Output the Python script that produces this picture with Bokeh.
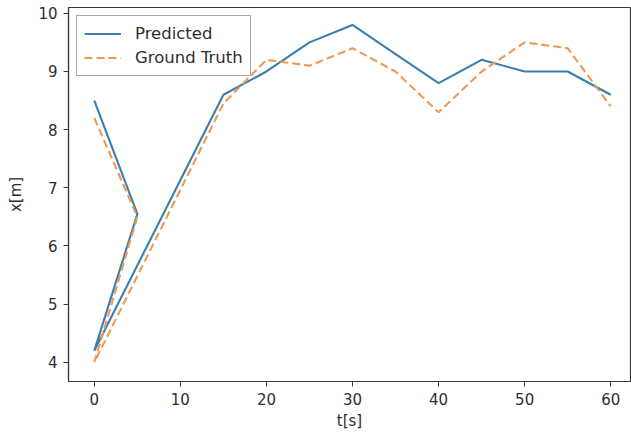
from bokeh.plotting import figure
from bokeh.models import Range1d, FixedTicker, Legend, LegendItem
from bokeh.embed import file_html
from bokeh.resources import INLINE

# Data
t_pred = [0, 5, 0, 15, 20, 25, 30, 35, 40, 45, 50, 55, 60]
x_pred = [8.5, 6.55, 4.2, 8.6, 9.0, 9.5, 9.8, 9.3, 8.8, 9.2, 9.0, 9.0, 8.6]
t_true = [0, 5, 0, 15, 20, 25, 30, 35, 40, 45, 50, 55, 60]
x_true = [8.2, 6.5, 4.0, 8.45, 9.2, 9.1, 9.4, 9.0, 8.3, 9.0, 9.5, 9.4, 8.4]
x_ticks = [0, 10, 20, 30, 40, 50, 60]
y_ticks = [4, 5, 6, 7, 8, 9, 10]

FONT = "DejaVu Sans"
TXT = "#2e2e2e"

p = figure(width=631, height=438, output_backend="svg", toolbar_location=None,
           x_range=Range1d(-3, 62.3), y_range=Range1d(3.67, 10.10),
           min_border_left=68, min_border_right=1, min_border_top=7, min_border_bottom=57)
p.xgrid.visible = False
p.ygrid.visible = False
p.outline_line_color = "#3a3a3a"
p.outline_line_width = 1.2
p.background_fill_color = "white"
p.border_fill_color = "white"

for ax, ticks in ((p.xaxis, x_ticks), (p.yaxis, y_ticks)):
    ax.ticker = FixedTicker(ticks=ticks)
    ax.minor_tick_line_color = None
    ax.major_tick_in = 0
    ax.major_tick_out = 5
    ax.major_tick_line_color = "#3a3a3a"
    ax.axis_line_color = "#3a3a3a"
    ax.axis_line_width = 1.2
    ax.major_label_text_font = FONT
    ax.major_label_text_font_size = "15px"
    ax.major_label_text_color = TXT
    ax.axis_label_text_font = FONT
    ax.axis_label_text_font_size = "15px"
    ax.axis_label_text_font_style = "normal"
    ax.axis_label_text_color = TXT

p.xaxis.axis_label = "t[s]"
p.yaxis.axis_label = "x[m]"
p.xaxis.major_label_standoff = 6
p.yaxis.major_label_standoff = 6
p.xaxis.axis_label_standoff = 4
p.yaxis.axis_label_standoff = 10

r1 = p.line(t_pred, x_pred, line_color="#3a7fb0", line_width=2.1)
r2 = p.line(t_true, x_true, line_color="#ee9a52", line_width=2.1, line_dash="8 4")

legend = Legend(items=[LegendItem(label="Predicted", renderers=[r1]),
                       LegendItem(label="Ground Truth", renderers=[r2])],
                location="top_left")
legend.label_text_font = FONT
legend.label_text_font_size = "16.5px"
legend.label_text_color = TXT
legend.glyph_width = 37
legend.glyph_height = 21
legend.label_standoff = 14
legend.spacing = 3
legend.padding = 7
legend.margin = 8
legend.border_line_color = "#555555"
legend.border_line_width = 1
legend.background_fill_alpha = 0.9
p.add_layout(legend)

open("out.html", "w").write(file_html(p, INLINE))
